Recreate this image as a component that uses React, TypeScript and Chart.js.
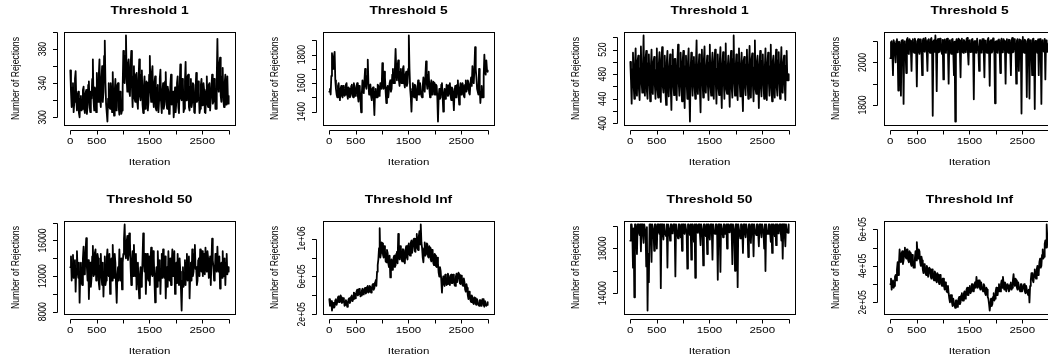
import { useEffect, useRef } from "react";
import { Chart, registerables } from "chart.js";

Chart.register(...registerables);

// ---------- data ----------
const ITER_FIRST = 1;
const ITER_LAST = 3000;
const X_TICKS = [0, 500, 1000, 1500, 2000, 2500, 3000];
const X_TICK_LABELS = ["0", "500", "", "1500", "", "2500", ""];

const t1LeftValues = [
  355, 330, 312, 335, 340, 306, 318, 345, 354, 320, 308, 326, 330, 305, 300, 322, 325, 308, 310, 332,
  336, 310, 305, 328, 332, 304, 312, 338, 342, 315, 306, 330, 322, 345, 368, 320, 308, 335, 330, 306,
  352, 325, 318, 350, 368, 322, 312, 345, 360, 318, 330, 372, 390, 340, 315, 305, 295, 322, 340, 312,
  310, 340, 328, 306, 353, 318, 302, 330, 345, 308, 318, 338, 340, 312, 303, 330, 326, 304, 308, 335,
  378, 345, 340, 372, 396, 345, 330, 362, 368, 330, 325, 360, 378, 335, 312, 348, 360, 322, 318, 350,
  352, 318, 310, 345, 368, 325, 320, 350, 355, 315, 305, 336, 348, 310, 312, 342, 340, 308, 318, 350,
  372, 330, 318, 352, 360, 322, 312, 340, 348, 310, 308, 335, 338, 306, 320, 345, 356, 318, 305, 330,
  340, 310, 315, 342, 353, 318, 310, 336, 330, 304, 305, 338, 350, 315, 318, 330, 300, 312, 335, 306,
  318, 340, 348, 312, 305, 335, 362, 322, 320, 345, 340, 306, 310, 342, 365, 320, 325, 348, 350, 312,
  308, 336, 345, 312, 318, 340, 338, 306, 305, 330, 352, 318, 320, 342, 330, 305, 310, 338, 345, 314,
  315, 340, 332, 306, 305, 330, 348, 315, 312, 338, 340, 308, 308, 336, 350, 316, 318, 345, 342, 310,
  310, 345, 392, 340, 330, 362, 370, 325, 318, 348, 358, 320, 312, 340, 350, 315, 320, 348, 316, 325,
];
const t1LeftTicks = [300, 320, 340, 360, 380, 400];
const t1LeftTickLabels = ["300", "", "340", "", "380", ""];

const t5LeftValues = [
  1540, 1560, 1520, 1650, 1810, 1740, 1700, 1790, 1820, 1620, 1560, 1520, 1500, 1580, 1600, 1520, 1480, 1560, 1580, 1510,
  1500, 1580, 1570, 1510, 1520, 1590, 1600, 1520, 1490, 1570, 1560, 1500, 1510, 1580, 1590, 1520, 1500, 1600, 1570, 1510,
  1520, 1580, 1600, 1510, 1470, 1580, 1560, 1480, 1395, 1520, 1620, 1540, 1530, 1620, 1700, 1580, 1560, 1650, 1765, 1600,
  1520, 1580, 1590, 1510, 1480, 1560, 1570, 1490, 1376, 1540, 1560, 1500, 1500, 1590, 1580, 1510, 1520, 1600, 1600, 1560,
  1741, 1620, 1560, 1680, 1640, 1540, 1460, 1560, 1580, 1500, 1500, 1600, 1620, 1540, 1560, 1660, 1700, 1600, 1600, 1700,
  1840, 1700, 1620, 1720, 1760, 1620, 1580, 1680, 1700, 1600, 1600, 1700, 1720, 1600, 1570, 1660, 1680, 1580, 1600, 1700,
  1935, 1700, 1560, 1500, 1400, 1540, 1600, 1510, 1500, 1590, 1580, 1500, 1480, 1560, 1620, 1520, 1520, 1600, 1600, 1510,
  1500, 1580, 1640, 1560, 1540, 1650, 1753, 1600, 1560, 1660, 1680, 1560, 1500, 1590, 1620, 1520, 1540, 1610, 1600, 1520,
  1520, 1590, 1580, 1500, 1330, 1500, 1560, 1490, 1500, 1590, 1600, 1510, 1400, 1520, 1560, 1490, 1500, 1590, 1580, 1510,
  1520, 1590, 1600, 1510, 1480, 1570, 1560, 1500, 1410, 1540, 1580, 1500, 1500, 1590, 1620, 1520, 1450, 1560, 1600, 1520,
  1540, 1600, 1580, 1510, 1500, 1590, 1620, 1540, 1560, 1620, 1600, 1530, 1520, 1600, 1640, 1580, 1720, 1640, 1600, 1700,
  1852, 1700, 1640, 1560, 1560, 1520, 1700, 1560, 1460, 1540, 1580, 1500, 1500, 1650, 1800, 1700, 1660, 1760, 1690, 1680,
];
const t5LeftTicks = [1400, 1500, 1600, 1700, 1800, 1900];
const t5LeftTickLabels = ["1400", "", "1600", "", "1800", ""];

const t50LeftValues = [
  13000, 14200, 11500, 13200, 14379, 11800, 12000, 13800, 10251, 12800, 14800, 12500, 11800, 13500, 9013, 12200, 13500, 11200, 11000, 14000,
  15317, 12200, 12500, 14800, 16255, 13000, 11500, 13800, 9426, 12500, 13500, 10800, 11800, 14200, 15400, 12000, 12200, 14600, 15000, 11500,
  11800, 14500, 14000, 11200, 10500, 13200, 14500, 12000, 11000, 13500, 9700, 12500, 14200, 11000, 11500, 14000, 15000, 12200, 12000, 14500,
  10000, 12800, 14000, 11500, 15500, 12500, 11800, 14500, 13500, 11000, 9000, 12000, 13000, 11500, 15000, 12800, 11500, 14000, 10500, 13500,
  14500, 16200, 17800, 14500, 14000, 15800, 16500, 13800, 14500, 16800, 16000, 13000, 11000, 13500, 14800, 12000, 15500, 12800, 12000, 14500,
  10500, 13000, 13500, 11000, 9500, 12000, 13000, 10800, 11500, 14000, 16800, 13500, 12500, 14500, 10000, 12500, 14500, 11800, 11500, 14200,
  11000, 13800, 15200, 12200, 12000, 14800, 14000, 11500, 9050, 11800, 13000, 10800, 14800, 12500, 11500, 13800, 10000, 12800, 14500, 11800,
  15000, 12500, 11800, 14200, 9500, 12000, 13000, 10800, 14800, 12200, 11500, 14000, 11000, 13200, 15000, 12000, 12500, 14800, 10000, 12800,
  13500, 11200, 14500, 12000, 11000, 14000, 12500, 10500, 8130, 11500, 13000, 10800, 11500, 13800, 11000, 13500, 14500, 11500, 12000, 14200,
  9500, 12200, 13500, 11500, 15000, 12000, 12500, 14500, 15500, 12800, 13000, 11000, 11500, 13800, 14000, 12000, 15000, 13200, 12500, 14800,
  12000, 13500, 14500, 12200, 15200, 13000, 12500, 14800, 14000, 11800, 12500, 14200, 11000, 13500, 16200, 13800, 13000, 11500, 12000, 14500,
  14500, 12500, 15300, 13000, 12500, 14200, 10600, 12800, 13500, 11800, 14800, 12200, 12000, 14000, 11000, 13500, 14500, 12200, 13000, 12500,
];
const t50LeftTicks = [8000, 10000, 12000, 14000, 16000, 18000];
const t50LeftTickLabels = ["8000", "", "12000", "", "16000", ""];

const tInfLeftValues = [
  3.6e5, 2.9e5, 3.0e5, 3.4e5, 2.4e5, 3.1e5, 3.2e5, 2.7e5, 2.8e5, 3.5e5, 3.6e5, 3.0e5, 3.3e5, 3.8e5, 3.9e5, 3.3e5, 3.5e5, 4.0e5, 3.8e5, 3.2e5,
  3.3e5, 3.7e5, 3.5e5, 2.9e5, 3.0e5, 3.5e5, 3.3e5, 2.8e5, 3.1e5, 3.6e5, 3.7e5, 3.2e5, 3.4e5, 3.9e5, 4.0e5, 3.4e5, 3.6e5, 4.3e5, 4.2e5, 3.7e5,
  3.9e5, 4.4e5, 4.6e5, 4.0e5, 4.1e5, 4.7e5, 4.5e5, 3.9e5, 4.0e5, 4.5e5, 4.7e5, 4.1e5, 4.2e5, 4.7e5, 4.8e5, 4.2e5, 4.3e5, 4.9e5, 5.0e5, 4.3e5,
  4.4e5, 5.0e5, 4.9e5, 4.3e5, 4.5e5, 5.1e5, 5.2e5, 4.6e5, 4.8e5, 5.4e5, 5.6e5, 5.0e5, 6.5e5, 7.2e5, 7.8e5, 9.0e5, 1.11e6, 8.0e5, 8.5e5, 9.6e5,
  9.5e5, 8.3e5, 8.0e5, 9.2e5, 8.8e5, 7.6e5, 7.5e5, 8.8e5, 8.5e5, 7.4e5, 7.0e5, 8.2e5, 5.9e5, 7.2e5, 7.8e5, 6.7e5, 6.8e5, 8.0e5, 8.2e5, 7.0e5,
  7.2e5, 8.4e5, 8.6e5, 7.4e5, 1.05e6, 8.8e5, 7.8e5, 9.2e5, 9.0e5, 7.8e5, 7.6e5, 8.9e5, 8.8e5, 7.6e5, 7.4e5, 8.8e5, 9.2e5, 8.0e5, 7.8e5, 9.3e5,
  9.5e5, 8.3e5, 8.2e5, 9.6e5, 9.8e5, 8.5e5, 8.5e5, 9.9e5, 1.0e6, 8.7e5, 8.6e5, 1.0e6, 1.05e6, 9.0e5, 8.8e5, 1.02e6, 1.08e6, 9.4e5, 1.15e6, 9.6e5,
  9.0e5, 8.0e5, 7.5e5, 8.9e5, 9.6e5, 8.2e5, 8.4e5, 9.5e5, 9.4e5, 8.1e5, 8.0e5, 9.2e5, 9.0e5, 7.8e5, 7.6e5, 8.8e5, 8.6e5, 7.4e5, 7.2e5, 8.4e5,
  8.2e5, 7.1e5, 7.0e5, 8.0e5, 7.4e5, 6.4e5, 6.0e5, 7.0e5, 6.6e5, 5.6e5, 4.3e5, 5.5e5, 6.0e5, 5.2e5, 5.0e5, 6.2e5, 6.1e5, 5.1e5, 5.2e5, 6.3e5,
  6.0e5, 5.2e5, 5.1e5, 6.1e5, 6.2e5, 5.3e5, 5.3e5, 6.2e5, 6.0e5, 5.1e5, 5.0e5, 6.0e5, 6.3e5, 5.4e5, 5.4e5, 6.4e5, 6.2e5, 5.3e5, 5.2e5, 6.1e5,
  6.0e5, 5.1e5, 5.0e5, 5.8e5, 5.4e5, 4.6e5, 4.4e5, 5.2e5, 4.8e5, 4.0e5, 3.6e5, 4.4e5, 4.2e5, 3.5e5, 3.3e5, 4.0e5, 3.8e5, 3.2e5, 3.1e5, 3.8e5,
  3.7e5, 3.1e5, 3.0e5, 3.6e5, 3.6e5, 3.0e5, 2.9e5, 3.5e5, 3.5e5, 2.9e5, 3.0e5, 3.6e5, 3.6e5, 3.0e5, 2.8e5, 3.4e5, 3.4e5, 2.9e5, 3.0e5, 3.3e5,
];
const tInfLeftTicks = [2e5, 4e5, 6e5, 8e5, 1e6];
const tInfLeftTickLabels = ["2e+05", "", "6e+05", "", "1e+06"];

const t1RightValues = [
  500, 470, 432, 488, 515, 462, 440, 495, 522, 458, 445, 502, 510, 455, 438, 490, 525, 468, 450, 485,
  543, 460, 445, 505, 518, 452, 440, 498, 512, 465, 436, 492, 520, 458, 448, 500, 508, 462, 440, 487,
  522, 455, 442, 496, 516, 470, 435, 503, 524, 460, 450, 490, 510, 452, 430, 499, 518, 466, 444, 488,
  512, 458, 422, 494, 520, 463, 446, 505, 505, 455, 438, 497, 528, 468, 445, 490, 515, 460, 436, 501,
  518, 456, 425, 493, 510, 467, 440, 500, 522, 452, 403, 486, 515, 470, 445, 502, 508, 459, 440, 495,
  535, 462, 448, 490, 512, 455, 418, 498, 520, 468, 442, 504, 525, 457, 450, 492, 510, 463, 438, 499,
  528, 460, 445, 496, 515, 452, 440, 503, 520, 466, 432, 489, 512, 458, 446, 500, 524, 461, 425, 494,
  516, 469, 440, 501, 530, 455, 448, 492, 510, 463, 427, 497, 518, 458, 442, 505, 543, 466, 445, 490,
  512, 455, 438, 499, 522, 468, 444, 493, 515, 452, 420, 502, 508, 460, 446, 496, 520, 465, 440, 489,
  526, 458, 442, 504, 514, 462, 436, 491, 535, 456, 448, 500, 510, 467, 425, 495, 518, 459, 444, 502,
  512, 463, 440, 490, 522, 455, 438, 498, 515, 469, 445, 493, 528, 457, 436, 501, 510, 462, 442, 496,
  520, 458, 445, 503, 516, 466, 440, 491, 524, 454, 450, 499, 510, 463, 438, 494, 518, 470, 470, 480,
];
const t1RightTicks = [400, 420, 440, 460, 480, 500, 520, 540];
const t1RightTickLabels = ["400", "", "440", "", "480", "", "520", ""];

const t5RightValues = [
  2020, 2095, 2100, 2050, 1940, 2105, 2090, 2045, 2000, 2100, 2110, 2055, 1868, 2098, 2095, 2048, 1844, 2102, 2105, 2052,
  1805, 2095, 2100, 2050, 1950, 2108, 2115, 2045, 2040, 2110, 2100, 2058, 1960, 2102, 2110, 2050, 2045, 2112, 2100, 2047,
  1887, 2100, 2110, 2052, 2040, 2108, 2105, 2046, 1940, 2104, 2112, 2055, 2050, 2115, 2100, 2049, 1960, 2106, 2110, 2053,
  2045, 2108, 2115, 2060, 1749, 2100, 2105, 2050, 2127, 2065, 1865, 2104, 2110, 2048, 2050, 2112, 2100, 2052, 2040, 2106,
  1920, 2102, 2108, 2050, 2045, 2110, 2112, 2055, 1900, 2100, 2105, 2047, 2040, 2108, 2110, 2052, 1940, 2098, 1722, 2095,
  2110, 2048, 2050, 2112, 2105, 2055, 1930, 2104, 2112, 2050, 2045, 2106, 2100, 2058, 2048, 2110, 2115, 2052, 1990, 2103,
  2105, 2049, 2050, 2108, 2110, 2056, 1827, 2100, 2100, 2047, 2045, 2112, 2112, 2053, 1960, 2105, 2105, 2046, 2050, 2110,
  2110, 2054, 1930, 2102, 2100, 2049, 2045, 2108, 2115, 2057, 1890, 2101, 2105, 2046, 2050, 2113, 2110, 2052, 1808, 2098,
  2100, 2050, 2045, 2106, 2108, 2055, 1950, 2103, 2112, 2048, 2050, 2109, 2100, 2056, 1900, 2101, 2110, 2051, 2045, 2107,
  2105, 2053, 1940, 2104, 2115, 2048, 2050, 2110, 2100, 2057, 1900, 2102, 2110, 2046, 1960, 2108, 2105, 2052, 1760, 2100,
  2120, 2050, 2045, 2107, 2100, 2055, 1837, 2102, 2110, 2048, 1830, 2104, 2105, 2052, 1940, 2109, 2112, 2047, 1781, 2101,
  2100, 2053, 2045, 2108, 1940, 2103, 2110, 2049, 1805, 2100, 2105, 2055, 2050, 2111, 1920, 2104, 2100, 2050, 2060, 2090,
];
const t5RightTicks = [1800, 1900, 2000, 2100];
const t5RightTickLabels = ["1800", "", "2000", ""];

const t50RightValues = [
  18700, 20150, 20150, 19400, 16280, 19800, 13640, 20150, 20150, 19300, 17500, 20150, 20150, 19500, 19200, 20150, 17750, 20150, 20150, 19350,
  18500, 20150, 20150, 19450, 16400, 19900, 12450, 17500, 14990, 20150, 20150, 19250, 16800, 20150, 20150, 19550, 17800, 20150, 20150, 19300,
  18000, 20150, 20150, 19500, 19300, 20150, 14450, 20150, 20150, 19400, 18800, 20150, 20150, 19250, 19100, 20150, 16300, 20150, 20150, 19600,
  18700, 20150, 20150, 19350, 19400, 20150, 20150, 19500, 15500, 20150, 20150, 19300, 18900, 20150, 20150, 19450, 19000, 20150, 17800, 20150,
  20150, 19500, 19300, 20150, 20150, 19400, 16200, 20150, 20150, 19550, 19200, 20150, 17000, 20150, 20150, 19300, 18600, 20150, 15380, 20150,
  20150, 19450, 19400, 20150, 20150, 19350, 18300, 20150, 20150, 19500, 16490, 20150, 20150, 19250, 19100, 20150, 17500, 20150, 20150, 19400,
  18800, 20150, 20150, 19500, 17000, 20150, 20150, 19350, 19300, 20150, 20150, 19450, 15200, 20150, 20150, 19300, 15900, 20150, 20150, 19550,
  19000, 20150, 20150, 19300, 19400, 20150, 18000, 20150, 20150, 19450, 19600, 20150, 20150, 19350, 16600, 20150, 20150, 19500, 16000, 20150,
  20150, 19400, 14540, 20150, 20150, 19300, 18900, 20150, 20150, 19500, 17600, 20150, 20150, 19350, 19000, 20150, 20150, 19450, 17240, 20150,
  20150, 19300, 18500, 20150, 20150, 19550, 17300, 20150, 20150, 19400, 19200, 20150, 20150, 19350, 18200, 20150, 20150, 19500, 19000, 20150,
  20150, 19450, 18000, 20150, 15980, 20150, 20150, 19300, 19300, 20150, 20150, 19400, 18600, 20150, 17600, 20150, 20150, 19550, 19100, 20150,
  18300, 20150, 20150, 19350, 19400, 20150, 20150, 19500, 18700, 20150, 17090, 20150, 20150, 19300, 18200, 20150, 20150, 19450, 19400, 20150,
];
const t50RightTicks = [14000, 16000, 18000, 20000];
const t50RightTickLabels = ["14000", "", "18000", ""];

const tInfRightValues = [
  3.0e5, 3.3e5, 2.7e5, 3.0e5, 3.2e5, 2.8e5, 2.9e5, 3.4e5, 3.5e5, 3.2e5, 3.8e5, 4.2e5, 3.5e5, 4.1e5, 4.9e5, 4.3e5, 4.2e5, 4.7e5, 4.8e5, 4.1e5,
  4.3e5, 4.8e5, 5.0e5, 4.5e5, 4.4e5, 4.9e5, 4.9e5, 4.3e5, 4.2e5, 4.8e5, 4.7e5, 4.1e5, 4.0e5, 4.6e5, 4.4e5, 3.9e5, 3.9e5, 4.4e5, 4.8e5, 4.3e5,
  5.3e5, 4.7e5, 4.4e5, 4.9e5, 4.8e5, 4.2e5, 4.0e5, 4.5e5, 4.3e5, 3.8e5, 3.6e5, 4.1e5, 4.0e5, 3.6e5, 3.5e5, 4.0e5, 3.9e5, 3.4e5, 3.4e5, 3.9e5,
  3.8e5, 3.4e5, 3.3e5, 3.8e5, 3.7e5, 3.3e5, 3.2e5, 3.7e5, 3.6e5, 3.2e5, 3.1e5, 3.6e5, 3.5e5, 3.1e5, 3.0e5, 3.5e5, 3.4e5, 3.0e5, 2.9e5, 3.3e5,
  3.3e5, 2.9e5, 2.7e5, 3.1e5, 3.0e5, 2.6e5, 2.55e5, 2.9e5, 2.5e5, 2.2e5, 2.0e5, 2.4e5, 2.4e5, 2.0e5, 1.8e5, 2.2e5, 2.2e5, 1.8e5, 1.7e5, 2.1e5,
  2.1e5, 1.75e5, 1.8e5, 2.2e5, 2.3e5, 1.9e5, 2.0e5, 2.4e5, 2.5e5, 2.1e5, 2.1e5, 2.5e5, 2.6e5, 2.2e5, 2.3e5, 2.7e5, 2.8e5, 2.4e5, 2.4e5, 2.8e5,
  2.9e5, 2.5e5, 2.6e5, 3.0e5, 3.0e5, 2.7e5, 2.6e5, 3.0e5, 3.1e5, 2.8e5, 3.4e5, 3.0e5, 2.8e5, 3.2e5, 3.2e5, 2.8e5, 2.7e5, 3.1e5, 3.1e5, 2.7e5,
  2.6e5, 3.0e5, 2.9e5, 2.5e5, 2.4e5, 2.8e5, 2.7e5, 2.3e5, 2.2e5, 1.9e5, 1.55e5, 1.9e5, 2.2e5, 1.8e5, 1.9e5, 2.3e5, 2.5e5, 2.1e5, 2.2e5, 2.6e5,
  2.8e5, 2.4e5, 2.4e5, 2.8e5, 3.0e5, 2.6e5, 2.6e5, 3.0e5, 3.2e5, 2.8e5, 3.4e5, 3.0e5, 2.7e5, 3.1e5, 3.0e5, 2.6e5, 2.6e5, 3.0e5, 2.9e5, 2.6e5,
  2.7e5, 3.0e5, 3.1e5, 2.7e5, 2.8e5, 3.2e5, 3.55e5, 3.1e5, 2.9e5, 3.3e5, 3.2e5, 2.8e5, 2.7e5, 3.1e5, 3.1e5, 2.7e5, 2.6e5, 3.0e5, 3.0e5, 2.6e5,
  2.6e5, 2.9e5, 3.0e5, 2.6e5, 2.5e5, 2.9e5, 2.9e5, 2.5e5, 2.4e5, 2.7e5, 2.0e5, 2.9e5, 3.2e5, 3.6e5, 3.6e5, 3.2e5, 3.1e5, 3.5e5, 3.8e5, 3.4e5,
  3.3e5, 3.8e5, 4.0e5, 3.5e5, 3.6e5, 4.2e5, 4.4e5, 3.9e5, 4.0e5, 4.6e5, 4.9e5, 4.4e5, 4.5e5, 5.2e5, 5.4e5, 5.0e5, 6.27e5, 5.5e5, 5.6e5, 5.0e5,
];
const tInfRightTicks = [2e5, 3e5, 4e5, 5e5, 6e5];
const tInfRightTickLabels = ["2e+05", "", "4e+05", "", "6e+05"];

const X_TITLE = "Iteration";
const Y_TITLE = "Number of Rejections";

type PanelSpec = {
  title: string;
  values: number[];
  yTicks: number[];
  yTickLabels: string[];
};

const PANELS: PanelSpec[] = [
  { title: "Threshold 1", values: t1LeftValues, yTicks: t1LeftTicks, yTickLabels: t1LeftTickLabels },
  { title: "Threshold 5", values: t5LeftValues, yTicks: t5LeftTicks, yTickLabels: t5LeftTickLabels },
  { title: "Threshold 1", values: t1RightValues, yTicks: t1RightTicks, yTickLabels: t1RightTickLabels },
  { title: "Threshold 5", values: t5RightValues, yTicks: t5RightTicks, yTickLabels: t5RightTickLabels },
  { title: "Threshold 50", values: t50LeftValues, yTicks: t50LeftTicks, yTickLabels: t50LeftTickLabels },
  { title: "Threshold Inf", values: tInfLeftValues, yTicks: tInfLeftTicks, yTickLabels: tInfLeftTickLabels },
  { title: "Threshold 50", values: t50RightValues, yTicks: t50RightTicks, yTickLabels: t50RightTickLabels },
  { title: "Threshold Inf", values: tInfRightValues, yTicks: tInfRightTicks, yTickLabels: tInfRightTickLabels },
];

// ---------- layout / style ----------
const CANVAS_W = 260;
const CANVAS_H = 171;
const LAYOUT = [
  { left: 0, top: 0 },
  { left: 259, top: 0 },
  { left: 560, top: 0 },
  { left: 820, top: 0 },
  { left: 0, top: 189 },
  { left: 259, top: 189 },
  { left: 560, top: 189 },
  { left: 820, top: 189 },
];
const PAD = { left: 64, right: 25, top: 32, bottom: 46 };
const VSCALE = 0.75;
const LINE_WIDTH = 1.8;
const FONT_FAMILY = '"Liberation Sans", Arial, Helvetica, sans-serif';
const FONT = `11.5px ${FONT_FAMILY}`;
const TITLE_FONT = `bold 13.8px ${FONT_FAMILY}`;

function hText(ctx: CanvasRenderingContext2D, s: string, x: number, y: number, font: string) {
  ctx.save();
  ctx.font = font;
  ctx.textAlign = "center";
  ctx.textBaseline = "middle";
  ctx.translate(x, y);
  ctx.scale(1, VSCALE);
  ctx.fillText(s, 0, 0);
  ctx.restore();
}

function vText(ctx: CanvasRenderingContext2D, s: string, x: number, y: number, font: string) {
  ctx.save();
  ctx.font = font;
  ctx.textAlign = "center";
  ctx.textBaseline = "middle";
  ctx.translate(x, y);
  ctx.rotate(-Math.PI / 2);
  ctx.scale(VSCALE, 1);
  ctx.fillText(s, 0, 0);
  ctx.restore();
}

function Panel({ spec, left, top }: { spec: PanelSpec; left: number; top: number }) {
  const ref = useRef<HTMLCanvasElement | null>(null);

  useEffect(() => {
    if (!ref.current) return;
    const n = spec.values.length;
    const points = spec.values.map((v, i) => ({
      x: ITER_FIRST + (i * (ITER_LAST - ITER_FIRST)) / (n - 1),
      y: v,
    }));
    const xSpan = ITER_LAST - ITER_FIRST;
    const lo = Math.min(...spec.values);
    const hi = Math.max(...spec.values);
    const ySpan = hi - lo;

    const rAxes = {
      id: "rAxes",
      afterDraw(chart: any) {
        const { ctx, chartArea: a, scales } = chart;
        const xs = scales.x;
        const ys = scales.y;
        ctx.save();
        ctx.strokeStyle = "#000";
        ctx.fillStyle = "#000";
        ctx.lineWidth = 1;
        ctx.strokeRect(
          Math.round(a.left) + 0.5,
          Math.round(a.top) + 0.5,
          Math.round(a.right - a.left),
          Math.round(a.bottom - a.top)
        );
        const yAx = Math.round(a.bottom + 5) + 0.5;
        ctx.beginPath();
        ctx.moveTo(Math.round(xs.getPixelForValue(X_TICKS[0])) + 0.5, yAx);
        ctx.lineTo(Math.round(xs.getPixelForValue(X_TICKS[X_TICKS.length - 1])) + 0.5, yAx);
        X_TICKS.forEach((t) => {
          const px = Math.round(xs.getPixelForValue(t)) + 0.5;
          ctx.moveTo(px, yAx);
          ctx.lineTo(px, yAx + 4);
        });
        ctx.stroke();
        X_TICKS.forEach((t, i) => {
          const lab = X_TICK_LABELS[i];
          if (lab) hText(ctx, lab, xs.getPixelForValue(t), a.bottom + 16.5, FONT);
        });
        const cx = (a.left + a.right) / 2;
        hText(ctx, X_TITLE, cx, a.bottom + 37.5, FONT);
        hText(ctx, spec.title, cx, a.top - 20.5, TITLE_FONT);
        const xAx = Math.round(a.left - 7) + 0.5;
        ctx.beginPath();
        ctx.moveTo(xAx, Math.round(ys.getPixelForValue(spec.yTicks[0])) + 0.5);
        ctx.lineTo(xAx, Math.round(ys.getPixelForValue(spec.yTicks[spec.yTicks.length - 1])) + 0.5);
        spec.yTicks.forEach((t) => {
          const py = Math.round(ys.getPixelForValue(t)) + 0.5;
          ctx.moveTo(xAx, py);
          ctx.lineTo(xAx - 4.5, py);
        });
        ctx.stroke();
        spec.yTicks.forEach((t, i) => {
          const lab = spec.yTickLabels[i];
          if (lab) vText(ctx, lab, a.left - 21, ys.getPixelForValue(t), FONT);
        });
        vText(ctx, Y_TITLE, a.left - 48.5, (a.top + a.bottom) / 2, FONT);
        ctx.restore();
      },
    };

    const chart = new Chart(ref.current, {
      type: "line",
      data: {
        datasets: [
          {
            data: points,
            borderColor: "#000",
            borderWidth: LINE_WIDTH,
            pointRadius: 0,
            tension: 0,
            borderJoinStyle: "round",
            borderCapStyle: "round",
            fill: false,
          } as any,
        ],
      },
      options: {
        animation: false,
        responsive: false,
        devicePixelRatio: 1,
        events: [],
        parsing: false,
        layout: { padding: PAD },
        plugins: {
          legend: { display: false },
          tooltip: { enabled: false },
          title: { display: false },
        },
        scales: {
          x: {
            type: "linear",
            display: false,
            min: ITER_FIRST - 0.04 * xSpan,
            max: ITER_LAST + 0.04 * xSpan,
          },
          y: {
            type: "linear",
            display: false,
            min: lo - 0.04 * ySpan,
            max: hi + 0.04 * ySpan,
          },
        },
      } as any,
      plugins: [rAxes],
    });
    return () => chart.destroy();
  }, [spec]);

  return (
    <canvas
      ref={ref}
      width={CANVAS_W}
      height={CANVAS_H}
      style={{ position: "absolute", left, top, width: CANVAS_W, height: CANVAS_H }}
    />
  );
}

export default function App() {
  return (
    <div
      style={{
        position: "absolute",
        left: 0,
        top: 0,
        width: 1048,
        height: 360,
        overflow: "hidden",
        background: "#fff",
      }}
    >
      {PANELS.map((p, i) => (
        <Panel key={i} spec={p} left={LAYOUT[i].left} top={LAYOUT[i].top} />
      ))}
    </div>
  );
}
